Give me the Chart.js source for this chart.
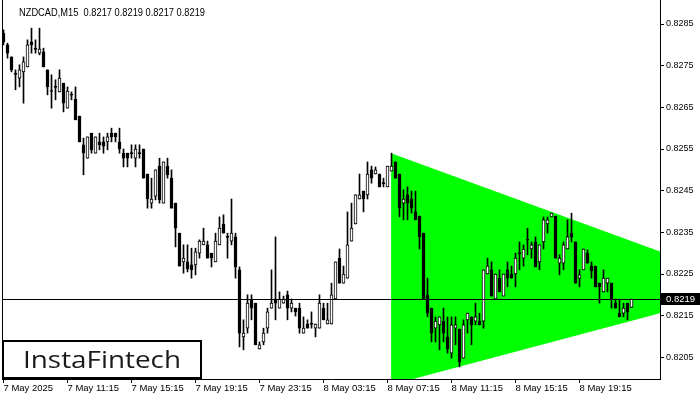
<!DOCTYPE html>
<html><head><meta charset="utf-8">
<script src="https://cdn.jsdelivr.net/npm/chart.js@4.4.1/dist/chart.umd.min.js"></script>
<style>html,body{margin:0;padding:0;background:#fff}#wrap{width:700px;height:400px;position:relative}</style>
</head><body><div id="wrap"><canvas id="c"></canvas></div>
<script>
const symbolTitle = 'NZDCAD,M15  0.8217 0.8219 0.8217 0.8219';
const logoText = 'InstaFintech';

const open = [
0.82828,0.82800,0.82771,0.82730,0.82720,0.82735,0.82747,0.82807,0.82790,0.82780,
0.82783,0.82740,0.82689,0.82699,0.82687,0.82708,0.82648,0.82680,0.82670,0.82629,
0.82560,0.82528,0.82588,0.82540,0.82567,0.82567,0.82567,0.82588,0.82588,0.82567,
0.82540,0.82540,0.82540,0.82528,0.82540,0.82550,0.82490,0.82420,0.82437,0.82509,
0.82420,0.82509,0.82480,0.82420,0.82348,0.82279,0.82279,0.82272,0.82272,0.82300,
0.82320,0.82320,0.82300,0.82279,0.82320,0.82370,0.82339,0.82329,0.82339,0.82260,
0.82099,0.82120,0.82190,0.82180,0.82070,0.82087,0.82120,0.82168,0.82190,0.82168,
0.82180,0.82200,0.82168,0.82168,0.82168,0.82108,0.82130,0.82130,0.82120,0.82120,
0.82168,0.82130,0.82130,0.82190,0.82288,0.82228,0.82240,0.82329,0.82370,0.82430,
0.82449,0.82440,0.82500,0.82490,0.82490,0.82468,0.82459,0.82497,0.82519,0.82490,
0.82420,0.82440,0.82430,0.82399,0.82389,0.82348,0.82200,0.82168,0.82120,0.82128,
0.82137,0.82099,0.82060,0.82120,0.82118,0.82048,0.82140,0.82147,0.82137,0.82137,
0.82137,0.82250,0.82260,0.82190,0.82240,0.82197,0.82260,0.82250,0.82250,0.82300,
0.82288,0.82332,0.82310,0.82327,0.82279,0.82327,0.82370,0.82387,0.82389,0.82276,
0.82276,0.82310,0.82348,0.82327,0.82240,0.82260,0.82300,0.82269,0.82269,0.82228,
0.82207,0.82228,0.82228,0.82180,0.82156,0.82156,0.82180,0.82170
];
const high = [
0.82836,0.82804,0.82771,0.82740,0.82752,0.82771,0.82812,0.82840,0.82812,0.82840,
0.82792,0.82740,0.82728,0.82716,0.82740,0.82708,0.82699,0.82687,0.82699,0.82629,
0.82576,0.82579,0.82588,0.82579,0.82588,0.82579,0.82588,0.82600,0.82588,0.82600,
0.82550,0.82540,0.82560,0.82560,0.82560,0.82550,0.82490,0.82480,0.82500,0.82528,
0.82519,0.82528,0.82500,0.82420,0.82348,0.82320,0.82320,0.82312,0.82312,0.82332,
0.82360,0.82329,0.82300,0.82348,0.82387,0.82392,0.82348,0.82430,0.82348,0.82267,
0.82140,0.82200,0.82200,0.82180,0.82087,0.82120,0.82168,0.82260,0.82339,0.82207,
0.82197,0.82209,0.82190,0.82168,0.82180,0.82147,0.82140,0.82159,0.82130,0.82200,
0.82180,0.82180,0.82228,0.82279,0.82310,0.82269,0.82399,0.82420,0.82440,0.82490,
0.82449,0.82519,0.82509,0.82507,0.82490,0.82480,0.82509,0.82540,0.82519,0.82490,
0.82452,0.82459,0.82449,0.82449,0.82389,0.82348,0.82240,0.82168,0.82147,0.82147,
0.82168,0.82147,0.82147,0.82147,0.82118,0.82140,0.82156,0.82147,0.82180,0.82156,
0.82260,0.82288,0.82279,0.82250,0.82260,0.82250,0.82279,0.82269,0.82300,0.82327,
0.82320,0.82360,0.82327,0.82339,0.82320,0.82387,0.82387,0.82396,0.82389,0.82296,
0.82327,0.82380,0.82396,0.82327,0.82260,0.82310,0.82308,0.82279,0.82269,0.82228,
0.82260,0.82240,0.82228,0.82190,0.82190,0.82180,0.82180,0.82190
];
const low = [
0.82800,0.82768,0.82735,0.82692,0.82699,0.82660,0.82747,0.82780,0.82780,0.82776,
0.82747,0.82680,0.82648,0.82668,0.82687,0.82639,0.82648,0.82668,0.82620,0.82567,
0.82488,0.82528,0.82540,0.82540,0.82548,0.82540,0.82548,0.82567,0.82567,0.82540,
0.82507,0.82507,0.82528,0.82507,0.82528,0.82480,0.82408,0.82408,0.82428,0.82420,
0.82420,0.82480,0.82408,0.82315,0.82269,0.82252,0.82255,0.82240,0.82248,0.82288,
0.82320,0.82288,0.82267,0.82279,0.82320,0.82348,0.82288,0.82320,0.82240,0.82075,
0.82068,0.82108,0.82140,0.82080,0.82070,0.82080,0.82108,0.82168,0.82140,0.82168,
0.82180,0.82140,0.82159,0.82149,0.82108,0.82108,0.82120,0.82120,0.82099,0.82120,
0.82140,0.82130,0.82130,0.82190,0.82228,0.82228,0.82240,0.82329,0.82370,0.82430,
0.82399,0.82430,0.82468,0.82490,0.82459,0.82459,0.82459,0.82497,0.82480,0.82387,
0.82380,0.82380,0.82396,0.82380,0.82310,0.82190,0.82147,0.82087,0.82087,0.82068,
0.82087,0.82060,0.82048,0.82080,0.82027,0.82048,0.82108,0.82080,0.82128,0.82128,
0.82120,0.82250,0.82197,0.82190,0.82207,0.82197,0.82219,0.82240,0.82219,0.82260,
0.82269,0.82296,0.82288,0.82267,0.82260,0.82310,0.82348,0.82387,0.82288,0.82248,
0.82260,0.82310,0.82327,0.82228,0.82219,0.82260,0.82276,0.82240,0.82219,0.82180,
0.82207,0.82207,0.82168,0.82168,0.82147,0.82147,0.82140,0.82170
];
const close = [
0.82807,0.82780,0.82740,0.82729,0.82740,0.82759,0.82800,0.82800,0.82789,0.82790,
0.82747,0.82699,0.82688,0.82698,0.82720,0.82660,0.82689,0.82679,0.82620,0.82567,
0.82540,0.82579,0.82548,0.82579,0.82560,0.82557,0.82579,0.82579,0.82579,0.82550,
0.82528,0.82528,0.82539,0.82550,0.82539,0.82480,0.82430,0.82430,0.82500,0.82428,
0.82519,0.82488,0.82408,0.82360,0.82269,0.82288,0.82262,0.82260,0.82303,0.82329,
0.82329,0.82288,0.82288,0.82329,0.82360,0.82348,0.82338,0.82348,0.82267,0.82108,
0.82108,0.82180,0.82168,0.82080,0.82080,0.82108,0.82159,0.82180,0.82180,0.82190,
0.82190,0.82168,0.82180,0.82159,0.82120,0.82120,0.82120,0.82129,0.82130,0.82180,
0.82140,0.82140,0.82200,0.82279,0.82228,0.82250,0.82320,0.82360,0.82440,0.82440,
0.82430,0.82490,0.82480,0.82500,0.82459,0.82467,0.82509,0.82509,0.82480,0.82408,
0.82430,0.82420,0.82408,0.82380,0.82339,0.82190,0.82156,0.82108,0.82137,0.82147,
0.82108,0.82070,0.82128,0.82128,0.82039,0.82128,0.82156,0.82128,0.82147,0.82128,
0.82260,0.82269,0.82197,0.82250,0.82207,0.82250,0.82240,0.82240,0.82288,0.82299,
0.82310,0.82331,0.82320,0.82267,0.82320,0.82380,0.82380,0.82396,0.82288,0.82288,
0.82320,0.82339,0.82339,0.82228,0.82248,0.82310,0.82276,0.82257,0.82219,0.82219,
0.82240,0.82240,0.82190,0.82168,0.82147,0.82168,0.82159,0.82190
];

const xTickIdx = [0,16,32,48,64,80,96,112,128,144];
const xTickLabels = ['7 May 2025','7 May 11:15','7 May 15:15','7 May 19:15','7 May 23:15','8 May 03:15','8 May 07:15','8 May 11:15','8 May 15:15','8 May 19:15'];
const yTicks = [0.8205,0.8215,0.8225,0.8235,0.8245,0.8255,0.8265,0.8275,0.8285];
const triX = [96.9, 164.2];
const triUpper = [0.82540, 0.82304];
const triLower = [0.81984, 0.82156];
const lastPrice = 0.8219;

const FONT = '"Liberation Sans", Arial, sans-serif';
Chart.defaults.font.family = FONT;
Chart.defaults.font.size = 10;
Chart.defaults.color = '#000';

const bodyColors = open.map((o,i)=> close[i] > o ? '#ffffff' : '#000000');

function fitText(ctx, text, x, y, width) {
  const w = ctx.measureText(text).width;
  ctx.save();
  ctx.translate(x, y);
  ctx.scale(width / w, 1);
  ctx.fillText(text, 0, 0);
  ctx.restore();
}

const overlay = {
  id: 'overlay',
  afterDatasetsDraw(chart) {
    const {ctx, chartArea: a, scales: {y}} = chart;
    const py = Math.round(y.getPixelForValue(lastPrice)) + 0.5;
    ctx.save();
    ctx.strokeStyle = '#000'; ctx.lineWidth = 1;
    ctx.beginPath(); ctx.moveTo(a.left, py); ctx.lineTo(a.right, py); ctx.stroke();
    ctx.beginPath(); ctx.moveTo(a.left + 0.5, 0); ctx.lineTo(a.left + 0.5, a.bottom); ctx.stroke();
    ctx.restore();
  },
  afterDraw(chart) {
    const {ctx, chartArea: a, scales: {y}} = chart;
    const py = Math.round(y.getPixelForValue(lastPrice));
    ctx.save();
    // price label
    ctx.fillStyle = '#000';
    ctx.fillRect(a.right + 1, py - 6, 700 - a.right - 1, 12);
    ctx.fillStyle = '#fff';
    ctx.font = '9.5px ' + FONT;
    ctx.textBaseline = 'middle';
    ctx.textAlign = 'left';
    ctx.fillText(lastPrice.toFixed(4), a.right + 6, py + 0.5);
    // title
    ctx.fillStyle = '#000';
    ctx.font = '10.5px ' + FONT;
    ctx.textBaseline = 'alphabetic';
    fitText(ctx, symbolTitle, 19, 16, 186);
    // logo box
    ctx.fillStyle = '#fff';
    ctx.fillRect(2, 340, 199, 39);
    ctx.strokeStyle = '#000';
    ctx.lineWidth = 2;
    ctx.strokeRect(3, 341, 198, 37);
    ctx.fillStyle = '#1a1a1a';
    ctx.font = '500 24px "Open Sans", sans-serif';
    fitText(ctx, logoText, 23, 368, 158);
    ctx.restore();
  }
};

new Chart(document.getElementById('c'), {
  type: 'bar',
  data: {
    datasets: [
      { type: 'bar', label: 'body', data: open.map((o,i)=>({x:i, y:[o, close[i]]})),
        backgroundColor: bodyColors, borderColor: '#000', borderWidth: 1, borderSkipped: false,
        barThickness: 3, minBarLength: 1, grouped: false, order: 0 },
      { type: 'bar', label: 'wick', data: low.map((l,i)=>({x:i, y:[l, high[i]]})),
        backgroundColor: '#000', borderWidth: 0, barThickness: 1, minBarLength: 1, grouped: false, order: 1 },
      { type: 'line', label: 'triUp', data: triX.map((x,i)=>({x, y: triUpper[i]})),
        borderColor: 'rgba(0,0,0,0)', borderWidth: 0, pointRadius: 0, tension: 0,
        fill: '+1', backgroundColor: '#00ff00', order: 2 },
      { type: 'line', label: 'triLow', data: triX.map((x,i)=>({x, y: triLower[i]})),
        borderColor: 'rgba(0,0,0,0)', borderWidth: 0, pointRadius: 0, tension: 0,
        fill: false, order: 3 }
    ]
  },
  options: {
    responsive: true, maintainAspectRatio: false, animation: false, devicePixelRatio: 1,
    layout: { padding: { left: 2, top: 0, right: 0, bottom: 0 } },
    plugins: { legend: { display: false }, tooltip: { enabled: false } },
    scales: {
      x: {
        type: 'linear', position: 'bottom', min: -0.375, max: 164.125, bounds: 'data', offset: false,
        afterBuildTicks: s => { s.ticks = xTickIdx.map(v => ({value: v})); },
        afterFit: s => { s.height = 21; s.paddingLeft = 0; s.paddingRight = 0; },
        grid: { drawOnChartArea: false, drawTicks: true, tickLength: 4, color: '#000', offset: false },
        border: { display: true, color: '#000', width: 1 },
        ticks: { autoSkip: false, maxRotation: 0, minRotation: 0, align: 'start', padding: 0,
          color: '#000', font: { size: 9.5 },
          callback: v => { const k = xTickIdx.indexOf(v); return k >= 0 ? xTickLabels[k] : ''; } }
      },
      y: {
        type: 'linear', position: 'right', min: 0.81998, max: 0.829076, bounds: 'data',
        afterBuildTicks: s => { s.ticks = yTicks.map(v => ({value: v})); },
        afterFit: s => { s.width = 40; s.paddingTop = 0; s.paddingBottom = 0; },
        grid: { drawOnChartArea: false, drawTicks: true, tickLength: 4, color: '#000' },
        border: { display: true, color: '#000', width: 1 },
        ticks: { padding: 2, color: '#000', font: { size: 9 }, callback: v => Number(v).toFixed(4) }
      }
    }
  },
  plugins: [overlay]
});
</script>
</body></html>
